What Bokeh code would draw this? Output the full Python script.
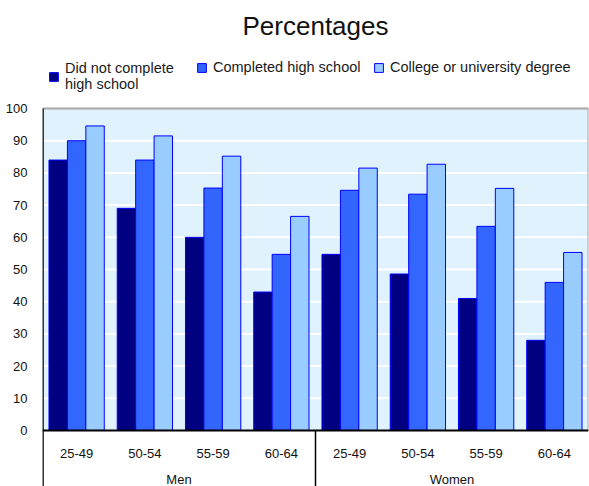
from bokeh.plotting import figure
from bokeh.models import (FactorRange, Range1d, FixedTicker, Span, BoxAnnotation,
                          Legend, LegendItem)
from bokeh.transform import dodge
from bokeh.core.properties import value
from bokeh.embed import file_html
from bokeh.resources import INLINE

# Employment rates by education level, sex and age group (%)
groups = ["Men", "Women"]
ages = ["25-49", "50-54", "55-59", "60-64"]
series_names = ["Did not complete\nhigh school", "Completed high school",
                "College or university degree"]
no_high_school = [84, 69, 60, 43, 54.7, 48.6, 41, 28]
high_school = [90, 84, 75.3, 54.7, 74.6, 73.4, 63.4, 46]
college = [94.6, 91.5, 85.2, 66.5, 81.5, 82.7, 75.2, 55.3]
y_ticks = list(range(0, 101, 10))

fills = ["#000080", "#3366FF", "#99CCFF"]
FONT = "Liberation Sans"

factors = [(g, a) for g in groups for a in ages]
x_range = FactorRange(*factors, group_padding=0, factor_padding=0,
                      subgroup_padding=0, range_padding=0)

# The frame holds three bands: legend strip on top, the 0-100 plotting band,
# and the category label strip below zero.
px_per_unit = 3.217
frame_top_px, band_top_px, fig_h = 46, 108, 486
y_high = 100 + (band_top_px - frame_top_px) / px_per_unit
y_low = -(fig_h - 430) / px_per_unit

p = figure(width=589, height=fig_h, x_range=x_range,
           y_range=Range1d(y_low, y_high),
           output_backend="svg", toolbar_location=None,
           min_border_left=42, min_border_right=1, min_border_top=frame_top_px,
           min_border_bottom=0)
p.background_fill_color = "white"
p.border_fill_color = "white"
p.outline_line_color = None

# light blue plotting band with white gridlines
p.add_layout(BoxAnnotation(bottom=0, top=100, fill_color="#DFF2FD",
                           fill_alpha=1, line_alpha=0, level="underlay"))
for t in y_ticks[1:-1]:
    p.add_layout(Span(location=t, dimension="width", line_color="white",
                      line_width=2, level="underlay"))

source = dict(x=factors, a=no_high_school, b=high_school, c=college)
bar_w = 0.27
renderers = []
for col, off, color in zip(["a", "b", "c"], [-bar_w, 0, bar_w], fills):
    r = p.vbar(x=dodge("x", off, range=p.x_range), top=col, width=bar_w,
               source=source, fill_color=color, line_color="#0000FF",
               line_width=1)
    renderers.append(r)

n = len(factors)
# band border: grey top and right edge
p.segment(x0=[0], y0=[100], x1=[n], y1=[100], line_color="#A8A8A8",
          line_width=2)
p.segment(x0=[n], y0=[0], x1=[n], y1=[100], line_color="#A8A8A8",
          line_width=2)
# value axis line running down through the label strip
p.segment(x0=[0], y0=[y_low], x1=[0], y1=[100], line_color="#333333",
          line_width=3)
# x axis line at zero and the divider between Men and Women
p.segment(x0=[0], y0=[0], x1=[n], y1=[0], line_color="black", line_width=2)
p.segment(x0=[len(ages)], y0=[y_low], x1=[len(ages)], y1=[0],
          line_color="black", line_width=1.5)

# category labels
p.text(x=factors, y=[-7.05] * n, text=[a for _, a in factors],
       text_font=value(FONT), text_font_size="13px", text_align="center",
       text_baseline="middle", text_color="#111111")
p.text(x=groups, y=[-15.3] * len(groups), text=groups,
       text_font=value(FONT), text_font_size="13px", text_align="center",
       text_baseline="middle", text_color="#111111")

p.xaxis.visible = False
p.xgrid.visible = False
p.ygrid.visible = False

yax = p.yaxis[0]
yax.ticker = FixedTicker(ticks=y_ticks)
yax.axis_line_color = None
yax.major_tick_line_color = None
yax.minor_tick_line_color = None
yax.major_label_text_font = FONT
yax.major_label_text_font_size = "13px"
yax.major_label_text_color = "#111111"
yax.major_label_standoff = 9

# one legend per series, laid out across the top strip of the frame
legend_x = [0, 148, 325]
legend_y = [388, 405, 405]
for s, r, lx, ly in zip(series_names, renderers, legend_x, legend_y):
    lg = Legend(items=[LegendItem(label=s, renderers=[r])],
                orientation="horizontal", location=(lx, ly),
                label_text_font=FONT, label_text_font_size="14.5px",
                label_text_color="#1a1a1a",
                label_text_line_height=1.15, glyph_width=11, glyph_height=11,
                label_standoff=6, padding=6, margin=0,
                border_line_alpha=0, background_fill_alpha=0)
    p.add_layout(lg, "center")

p.title.text = "Percentages"
p.title.align = "center"
p.title.text_font = FONT
p.title.text_font_size = "26px"
p.title.text_font_style = "normal"
p.title.text_color = "#111111"
p.title.standoff = 11

open("out.html", "w").write(file_html(p, INLINE))
